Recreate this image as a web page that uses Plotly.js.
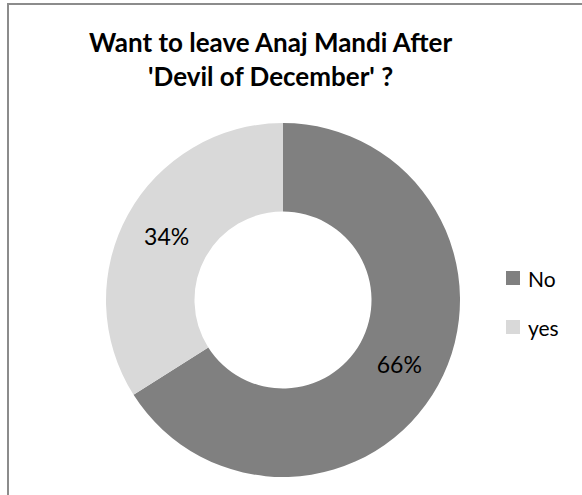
<!DOCTYPE html>
<html>
<head>
<meta charset="utf-8">
<script src="https://cdn.plot.ly/plotly-3.0.1.min.js"></script>
<style>html,body{margin:0;padding:0;background:#fff;}#chart{width:582px;height:495px;}</style>
</head>
<body>
<div id="chart"></div>
<script>
const categories = ["No", "yes"];
const values = [66, 34];
const colors = ["#808080", "#d9d9d9"];
const titleLines = ["Want to leave Anaj Mandi After", "'Devil of December' ?"];

const W = 582, H = 495;
const FONT = "Lato, 'Liberation Sans', sans-serif";

const trace = {
  type: "pie",
  labels: categories,
  values: values,
  hole: 0.5,
  sort: false,
  direction: "clockwise",
  rotation: 0,
  marker: {colors: colors, line: {width: 0}},
  textinfo: "percent",
  textposition: "inside",
  insidetextorientation: "horizontal",
  textfont: {family: FONT, size: 23, color: "#000"},
  domain: {x: [106 / W, 460 / W], y: [18 / H, 372 / H]},
  showlegend: false,
  hoverinfo: "label+percent"
};

const shapes = [{
  type: "rect", xref: "paper", yref: "paper",
  x0: 8 / W, x1: 1.2, y0: -0.2, y1: 1 - 4 / H,
  line: {color: "#8c8c8c", width: 2}, fillcolor: "rgba(0,0,0,0)"
}];
const annotations = [];
const legX = 506, legY0 = 278, legStep = 49, sq = 14;
categories.forEach((c, i) => {
  const cy = legY0 + i * legStep;
  shapes.push({
    type: "rect", xref: "paper", yref: "paper",
    x0: legX / W, x1: (legX + sq) / W,
    y0: 1 - (cy + sq / 2) / H, y1: 1 - (cy - sq / 2) / H,
    line: {width: 0}, fillcolor: colors[i]
  });
  annotations.push({
    xref: "paper", yref: "paper", x: (legX + sq + 6) / W, y: 1 - cy / H,
    xanchor: "left", yanchor: "middle", showarrow: false,
    text: c, font: {family: FONT, size: 21, color: "#000"}
  });
});

// chart title as a centred two-line annotation
annotations.push({
  xref: "paper", yref: "paper", x: 270 / W, y: 1 - 59 / H,
  xanchor: "center", yanchor: "middle", showarrow: false,
  text: "<b>" + titleLines.join("<br>") + "</b>",
  font: {family: FONT, size: 26, color: "#000"}
});

const layout = {
  width: W, height: H,
  margin: {l: 0, r: 0, t: 0, b: 0},
  paper_bgcolor: "#fff",
  shapes: shapes,
  annotations: annotations
};

Plotly.newPlot("chart", [trace], layout, {displayModeBar: false, staticPlot: true});
</script>
</body>
</html>
